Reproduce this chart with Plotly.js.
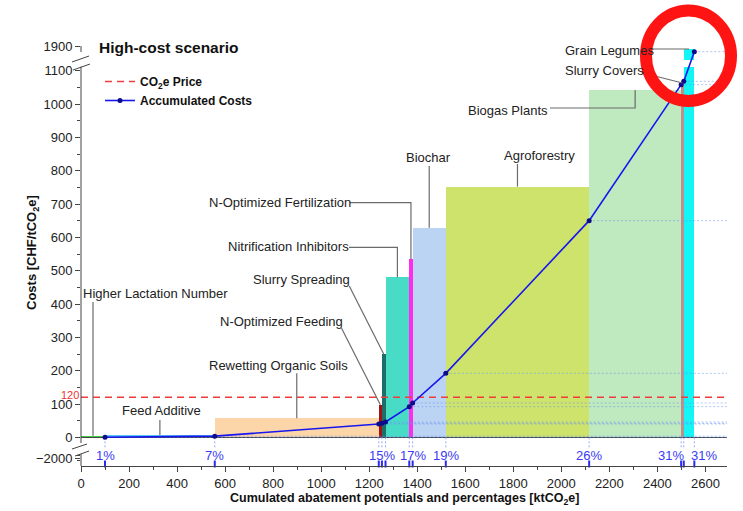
<!DOCTYPE html>
<html><head><meta charset="utf-8">
<script src="https://cdn.plot.ly/plotly-3.0.1.min.js"></script>
<style>html,body{margin:0;padding:0;background:#fff}#chart{width:743px;height:511px}</style>
</head><body><div id="chart"></div>
<script>
// ---------------- DATA ----------------
const measures = ["Higher Lactation Number","Feed Additive","Rewetting Organic Soils","N-Optimized Feeding",
  "Slurry Spreading","Nitrification Inhibitors","N-Optimized Fertilization","Biochar","Agroforestry",
  "Biogas Plants","Slurry Covers","Grain Legumes"];
const potentials = [100, 457, 683, 13, 15, 99, 14, 138, 597, 383, 11, 44];      // ktCO2e
const costs      = [5, 7, 57, 98, 250, 480, 534, 629, 752, 1042, 1063, 1891];   // CHF/tCO2e
const accumulated = [0.3, 3.5, 40, 42, 46, 92, 103, 192, 650, 1058, 1068, 1883];
const pctLabels  = ["1%","7%","15%","15%","15%","17%","17%","19%","26%","31%","31%","31%"];
const pctShown   = [true,true,false,true,false,false,true,true,true,false,true,true];
const co2Price = 120;
const xTicks = [0,200,400,600,800,1000,1200,1400,1600,1800,2000,2200,2400,2600];
const yTicksMain = [0,100,200,300,400,500,600,700,800,900,1000,1100];
const yTicksUpper = [1900];
const yTicksLower = [-2000];

// ---------------- STYLE ----------------
const barColors = ["#3fd03f","#5cc6f2","#fcd6a8","#a11414","#1b6f68","#48dcc6","#ff2bef",
  "#bcd4f3","#cde36c","#bfe9bf","#bb9090","#14f5f5"];
const FONT = "Liberation Sans, Arial, Helvetica, sans-serif";
const XMAX = 2690;

// broken-axis transform (real value -> drawn coordinate)
const MAIN_TOP = 1112, UP_START = 1858, UP_OFFSET = 726;
const LOW_REF = -2000, LOW_POS = -63, LOW_K = 0.015;
function brk(v){
  if (v >= UP_START) return v - UP_OFFSET;
  if (v >= 0) return Math.min(v, MAIN_TOP);
  return LOW_POS + (v - LOW_REF) * LOW_K;
}

// label placement (drawn coords) and leader type
const labelLayout = [
  {x:310,  y:431,  lead:{type:'v', y0:406}},
  {x:334,  y:80,   lead:{type:'v', y0:52}},
  {x:823,  y:217,  lead:{type:'v', y0:192}},
  {x:833,  y:347,  lead:{type:'d', x0:1085, y0:327}},
  {x:917,  y:475,  lead:{type:'d', x0:1117, y0:454}},
  {x:865,  y:572,  lead:{type:'e', x0:1116, y0:570}},
  {x:830,  y:704,  lead:{type:'e', x0:1120, y0:704}},
  {x:1445, y:841,  lead:{type:'v', y0:814}},
  {x:1911, y:847,  lead:{type:'v', y0:820}},
  {x:1778, y:982,  lead:{type:'e', x0:1953, y0:988}},
  {x:2178, y:1102, lead:{type:'d', x0:2340, y0:1093}},
  {x:2199, y:1160, lead:{type:'h', x0:2378}}
];

// ---------------- DERIVED ----------------
const ends = [], centers = [];
let run = 0;
potentials.forEach(p => { centers.push(run + p/2); run += p; ends.push(run); });

const traces = [];
// main bars
traces.push({type:'bar', x:centers, width:potentials, y:costs.map(c => brk(Math.min(c, MAIN_TOP))),
  marker:{color:barColors, line:{width:0}}, showlegend:false, hoverinfo:'skip'});
// upper pieces for broken bars
const upIdx = costs.map((c,i)=>i).filter(i => costs[i] > MAIN_TOP);
traces.push({type:'bar', x:upIdx.map(i=>centers[i]), width:upIdx.map(i=>potentials[i]),
  base:upIdx.map(()=>brk(UP_START)), y:upIdx.map(i=>brk(costs[i]) - brk(UP_START)),
  marker:{color:upIdx.map(i=>barColors[i]), line:{width:0}}, showlegend:false, hoverinfo:'skip'});

// horizontal dotted guides from each point
const hx = [], hy = [];
ends.forEach((e,i)=>{ hx.push(e, XMAX, null); hy.push(brk(accumulated[i]), brk(accumulated[i]), null); });
traces.push({type:'scatter', mode:'lines', x:hx, y:hy, line:{color:'rgba(110,150,240,0.55)', width:1, dash:'2px,2px'},
  showlegend:false, hoverinfo:'skip'});
// vertical dotted guides under the axis
const vx = [], vy = [];
ends.forEach(e=>{ vx.push(e, e, null); vy.push(0, -35, null); });
traces.push({type:'scatter', mode:'lines', x:vx, y:vy, line:{color:'rgba(110,130,255,0.7)', width:1, dash:'2px,2px'},
  showlegend:false, hoverinfo:'skip', cliponaxis:false});
// blue ticks on x axis
traces.push({type:'scatter', mode:'markers', x:ends, y:ends.map(()=>-80),
  marker:{symbol:'line-ns', size:5, line:{color:'#2a2af0', width:2}}, showlegend:false, hoverinfo:'skip', cliponaxis:false});

// CO2e price
traces.push({type:'scatter', mode:'lines', x:[0, XMAX], y:[brk(co2Price), brk(co2Price)],
  name:'CO<sub>2</sub>e Price', line:{color:'#f03c3c', width:1.5, dash:'7px,5px'}});
// accumulated
traces.push({type:'scatter', mode:'lines+markers', x:ends, y:accumulated.map(brk),
  name:'Accumulated Costs', line:{color:'#1616f0', width:1.6}, marker:{color:'#0c0c8a', size:5}});

// ---------------- ANNOTATIONS ----------------
const px2x = p => (p-81)/646;
const py2y = p => (437.3-p)*3;
const annotations = [];
measures.forEach((m,i)=>{
  annotations.push({x:labelLayout[i].x, y:labelLayout[i].y, xref:'x', yref:'y', text:m, showarrow:false,
    xanchor:'center', yanchor:'middle', font:{family:FONT, size:13, color:'#222'}});
});
// percentage labels
ends.forEach((e,i)=>{
  if (!pctShown[i]) return;
  let xa = 'center', xs = 0;
  if (i === 10) { xa = 'right'; xs = 2; }
  if (i === 11) { xa = 'left'; xs = -5; }
  annotations.push({x:e, y:-55, xref:'x', yref:'y', text:pctLabels[i], showarrow:false, xanchor:xa, yanchor:'middle', xshift:xs,
    font:{family:FONT, size:13, color:'#3a3af5'}});
});
// price label
annotations.push({x:px2x(70), xref:'paper', y:brk(co2Price), yref:'y', yshift:2, text:String(co2Price), showarrow:false,
  xanchor:'center', yanchor:'middle', font:{family:FONT, size:11, color:'#ee3333'}});
// axis titles
annotations.push({x:0.5, xref:'paper', y:(466-499)/422, yref:'paper', xanchor:'center', yanchor:'middle',
  text:'<b>Cumulated abatement potentials and percentages [ktCO<sub>2</sub>e]</b>',
  showarrow:false, font:{family:FONT, size:12.5, color:'#111'}});
annotations.push({x:px2x(33), xref:'paper', y:(466-253)/422, yref:'paper', xanchor:'center', yanchor:'middle',
  text:'<b>Costs [CHF/tCO<sub>2</sub>e]</b>', textangle:-90,
  showarrow:false, font:{family:FONT, size:13, color:'#111'}});

// ---------------- SHAPES ----------------
const shapes = [];
const GRAY = '#6b6b6b';
measures.forEach((m,i)=>{
  const L = labelLayout[i].lead, cx = centers[i], top = brk(costs[i]);
  let path;
  if (L.type === 'v') path = `M${cx},${L.y0} L${cx},${top}`;
  else if (L.type === 'd') path = `M${L.x0},${L.y0} L${cx},${top}`;
  else if (L.type === 'e') path = `M${L.x0},${L.y0} L${cx},${L.y0} L${cx},${top}`;
  else path = `M${L.x0},${top} L${cx},${top}`;
  shapes.push({type:'path', xref:'x', yref:'y', path:path, line:{color:GRAY, width:1.2}});
});
// broken y-axis line
const AX = '#444';
[[brk(1900), 1156], [MAIN_TOP, -17], [-50, -86]].forEach(s=>{
  shapes.push({type:'line', xref:'paper', yref:'y', x0:0, x1:0, y0:s[0], y1:s[1], line:{color:AX, width:1}});
});
// break marks
[[72,62,89,56],[73,70,90,64],[72,449,87,444],[75,456,89,451]].forEach(b=>{
  shapes.push({type:'line', xref:'paper', yref:'y', x0:px2x(b[0]), y0:py2y(b[1]), x1:px2x(b[2]), y1:py2y(b[3]),
    line:{color:AX, width:1}});
});
// red highlight ring
shapes.push({type:'circle', xref:'paper', yref:'paper', x0:px2x(646), x1:px2x(731), y0:(466-101)/422, y1:(466-10.5)/422,
  line:{color:'#ff1414', width:12}, layer:'above'});

const minorMain = [];
for (let v=50; v<=1100; v+=100) minorMain.push(v);

const layout = {
  width:743, height:511,
  margin:{l:81, r:16, t:44, b:45},
  paper_bgcolor:'#fff', plot_bgcolor:'#fff',
  font:{family:FONT, color:'#222'},
  barmode:'overlay', bargap:0,
  title:{text:'High-cost scenario', font:{family:FONT, size:15.5, weight:'bold', color:'#111'},
    x:px2x(99), xref:'paper', xanchor:'left', y:1-48/511, yref:'container', yanchor:'middle'},
  xaxis:{range:[0, XMAX], tickvals:xTicks, ticks:'outside', ticklen:5, tickwidth:1, tickcolor:AX,
    showline:true, linecolor:AX, linewidth:1, showgrid:false, zeroline:false,
    tickfont:{family:FONT, size:13, color:'#222'},
    minor:{tickvals:xTicks.map(v=>v+100), ticks:'outside', ticklen:3, tickcolor:AX, showgrid:false}},
  yaxis:{range:[-86, 1180], showline:false, showgrid:false, zeroline:true, zerolinecolor:'#444', zerolinewidth:1,
    tickvals:[...yTicksLower.map(brk), ...yTicksMain.map(brk), ...yTicksUpper.map(brk)],
    ticktext:[...yTicksLower.map(v=>'\u2212'+Math.abs(v)), ...yTicksMain.map(String), ...yTicksUpper.map(String)],
    ticks:'outside', ticklen:5, tickwidth:1, tickcolor:AX,
    tickfont:{family:FONT, size:13, color:'#222'},
    minor:{tickvals:[...minorMain.map(brk), brk(-1500), brk(-2500)], ticks:'outside', ticklen:3, tickcolor:AX, showgrid:false}},
  legend:{x:px2x(100), xanchor:'left', y:(466-67)/422, yanchor:'top', bgcolor:'rgba(0,0,0,0)',
    font:{family:FONT, size:12, weight:'bold', color:'#111'}, tracegroupgap:0},
  showlegend:true,
  annotations:annotations,
  shapes:shapes
};

Plotly.newPlot('chart', traces, layout, {displayModeBar:false, staticPlot:true});
</script>
</body></html>
